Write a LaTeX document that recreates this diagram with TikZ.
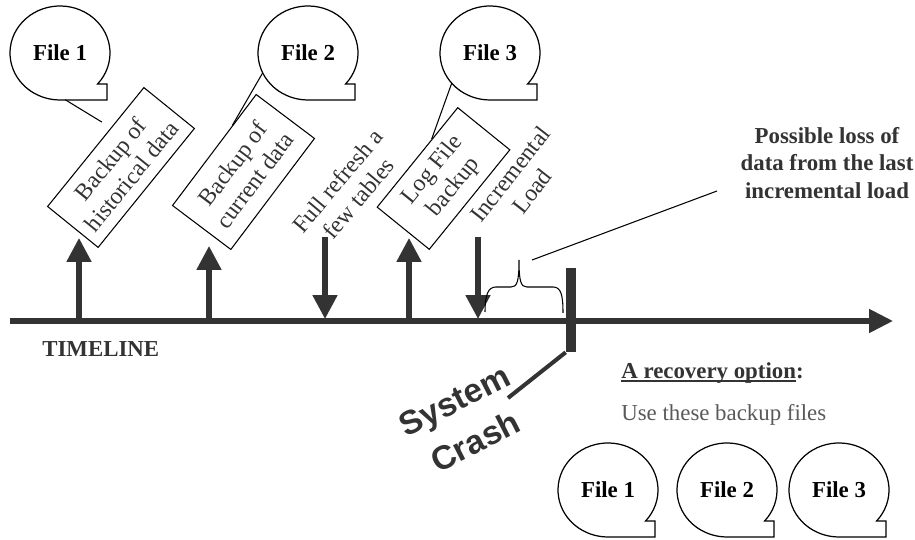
\documentclass[tikz,border=0pt]{standalone}
\usepackage{fontspec}
\setmainfont{Liberation Serif}
\setsansfont{Liberation Sans}
\usepackage{tikz}
\usetikzlibrary{positioning, arrows.meta, calc}

\definecolor{ink}{HTML}{333333}
\definecolor{softink}{HTML}{595959}

% speech bubble with the square tail at the lower right
\newcommand{\filebubble}[3]{%
  \draw[bubble] (#2) ++(-41.3:50 and 47)
    arc[start angle=-41.3, end angle=270, x radius=50, y radius=47]
    -- ++(47,0) -- ++(0,16) -- cycle;
  \node[filelbl] (#1) at (#2) {#3};
}
\newcommand{\baseul}[1]{\setbox0\hbox{#1}\rlap{\rule[-2pt]{\wd0}{0.9pt}}\box0}

\begin{document}
\begin{tikzpicture}[x=0.02cm, y=0.02cm,
  bubble/.style={draw, line width=0.7pt},
  filelbl/.style={font=\fontsize{13}{15}\selectfont\bfseries},
  note/.style={draw, line width=0.6pt, align=center, inner sep=0pt,
               text=ink, font=\fontsize{13.5}{15.5}\selectfont},
  tag/.style={align=center, inner sep=0pt, text=ink,
              font=\fontsize{13.5}{15.5}\selectfont},
  caption/.style={inner sep=0pt, text=ink,
                  font=\fontsize{13}{15.6}\selectfont\bfseries},
  tick/.style={-{Triangle[length=13.6pt, width=13.6pt]}, line width=2.9pt, ink},
  timeline/.style={-{Triangle[length=13.6pt, width=13pt]}, line width=2.9pt, ink},
  pointer/.style={line width=0.6pt},
  crashbar/.style={fill=ink, inner sep=0pt, minimum width=0.2cm, minimum height=1.68cm}
]
  \useasboundingbox (0,0) rectangle (915,540);

  % timeline
  \coordinate (tlstart) at (10,219);
  \coordinate (tlend)   at (893,219);
  \draw[timeline] (tlstart) -- (tlend);
  \node[caption, anchor=west] (tlname) at (42,191) {TIMELINE};

  % events along the line
  \node[note, rotate=51, minimum width=3.06cm, minimum height=1.3cm] (hist)
    at (121,372.5) {Backup of\\historical data};
  \node[note, rotate=53, minimum width=2.78cm, minimum height=1.46cm] (cur)
    at (243.5,368) {Backup of\\current data};
  \node[tag, rotate=50] (refresh) at (348,350.5) {Full refresh a\\few tables};
  \node[note, rotate=51, minimum width=2.56cm, minimum height=1.34cm] (logb)
    at (443.5,361.5) {Log File\\backup};
  \node[tag, rotate=52] (incr) at (521,357.5) {Incremental\\Load};

  \coordinate (evHist)    at (79,219);  \coordinate (evHistTop)    at (79,302);
  \coordinate (evCur)     at (209,219); \coordinate (evCurTop)     at (209,294);
  \coordinate (evLog)     at (409,219); \coordinate (evLogTop)     at (409,302);
  \coordinate (evRefresh) at (325,221); \coordinate (evRefreshTop) at (325,303);
  \coordinate (evIncr)    at (478,221); \coordinate (evIncrTop)    at (478,303);
  \draw[tick] (evHist) -- (evHistTop);
  \draw[tick] (evCur)  -- (evCurTop);
  \draw[tick] (evLog)  -- (evLogTop);
  \draw[tick] (evRefreshTop) -- (evRefresh);
  \draw[tick] (evIncrTop)    -- (evIncr);

  % files made by the backups
  \filebubble{f1}{60,487}{File 1}
  \filebubble{f2}{308,487}{File 2}
  \filebubble{f3}{490,487}{File 3}
  \draw[pointer, shorten >=6pt] ($(f1)+(-84:50 and 47)$)
    -- ($(hist.north west)!0.66!(hist.north east)$);
  \draw[pointer] ($(f2)+(205:50 and 47)$)
    -- ($(cur.north west)!0.72!(cur.north east)$);
  \draw[pointer] ($(f3)+(220:50 and 47)$)
    -- ($(logb.north west)!0.68!(logb.north east)$);

  % crash and lost data
  \node[crashbar] (crash) at (571,230) {};
  \node[rotate=27, align=center, inner sep=0pt, text=ink,
        font=\fontsize{19}{26}\selectfont\sffamily\bfseries] (syscrash)
    at (465,119) {System\\Crash};
  \coordinate (crashpt) at (508,142);
  \draw[line width=2.3pt, ink] (crash.south west) -- (crashpt);

  \draw[line width=0.6pt] (485,228) .. controls (485,245) and (488,253) .. (496,253)
    -- (511,253) .. controls (517,253) and (519,258) .. (519,280)
    .. controls (519,258) and (521,253) .. (527,253)
    -- (553,253) .. controls (561,253) and (563,245) .. (563,227);
  \node[caption, align=center] (loss) at (827,377)
    {Possible loss of\\data from the last\\incremental load};
  \coordinate (lossfrom) at (532,280);
  \coordinate (lossto)   at (717,349);
  \draw[pointer] (lossfrom) -- (lossto);

  % recovery
  \node[caption, anchor=west] (recov) at (621,167) {\baseul{A recovery option}:};
  \node[inner sep=0pt, anchor=west, text=softink,
        font=\fontsize{13}{15.6}\selectfont] (usefiles) at (621,125)
    {Use these backup files};
  \filebubble{r1}{608,50}{File 1}
  \filebubble{r2}{727,50}{File 2}
  \filebubble{r3}{839,50}{File 3}
\end{tikzpicture}
\end{document}
